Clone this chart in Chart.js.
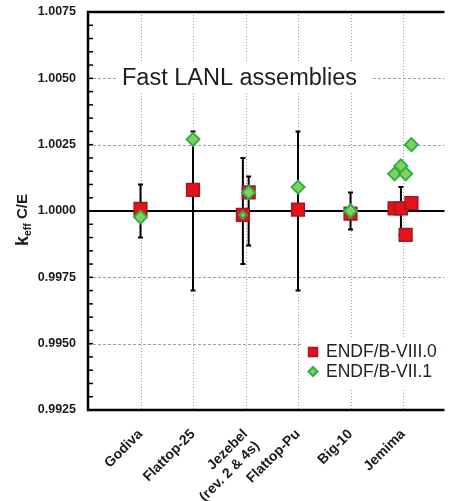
<!DOCTYPE html>
<html>
<head>
<meta charset="utf-8">
<script src="https://cdn.jsdelivr.net/npm/chart.js"></script>
<style>
  html, body { margin: 0; padding: 0; background: #fff; }
  #wrap { width: 455px; height: 501px; overflow: hidden; }
</style>
</head>
<body>
<div id="wrap"><canvas id="chart" width="455" height="501"></canvas></div>
<script>
const categories = ['Godiva', 'Flattop-25', ['Jezebel', '(rev. 2 & 4s)'], 'Flattop-Pu', 'Big-10', 'Jemima'];
const yTicks = [0.9925, 0.9950, 0.9975, 1.0000, 1.0025, 1.0050, 1.0075];

// x position of each assembly point (category index, small offsets for repeated ones)
const pointX = [1, 2, 2.95, 3.06, 4, 5, 5.84, 5.96, 6.05, 6.16];
const endf80 = [1.00008, 1.0008, 0.99985, 1.0007, 1.00005, 0.9999, 1.0001, 1.0001, 0.9991, 1.0003];
const endf71 = [0.99977, 1.0027, 0.99985, 1.0007, 1.0009, 1.0000, 1.0014, 1.0017, 1.0014, 1.0025];

// experimental uncertainty bars, centred on 1.0
const errX = [1, 2, 2.95, 3.06, 4, 5, 5.96];
const errSize = [0.0010, 0.0030, 0.0020, 0.0013, 0.0030, 0.0007, 0.0009];

const seriesNames = ['ENDF/B-VIII.0', 'ENDF/B-VII.1'];

Chart.defaults.font.family = "'Liberation Sans', Arial, sans-serif";
Chart.defaults.color = '#1a1a1a';

const RED = '#e5121b', RED_EDGE = '#9e1a1e';
const GREEN = '#86cf5a', GREEN_EDGE = '#27b249';

const framePlugin = {
  id: 'frame',
  beforeDatasetsDraw(chart) {
    const ctx = chart.ctx;
    const a = chart.chartArea;
    const xs = chart.scales.x, ys = chart.scales.y;
    ctx.save();

    // horizontal dashed grid
    ctx.strokeStyle = '#a0a0a0';
    ctx.lineWidth = 1;
    ctx.setLineDash([3, 2]);
    yTicks.forEach(v => {
      if (v === ys.min || v === ys.max || v === 1) return;
      const y = Math.round(ys.getPixelForValue(v)) + 0.5;
      ctx.beginPath(); ctx.moveTo(a.left, y); ctx.lineTo(a.right, y); ctx.stroke();
    });
    // vertical dotted grid
    ctx.setLineDash([1, 2]);
    categories.forEach((c, i) => {
      const x = Math.round(xs.getPixelForValue(i + 1)) + 0.5;
      ctx.beginPath(); ctx.moveTo(x, a.top); ctx.lineTo(x, a.bottom); ctx.stroke();
    });
    ctx.setLineDash([]);

    // reference line at 1.0
    ctx.strokeStyle = '#000';
    ctx.lineWidth = 2;
    const y1 = ys.getPixelForValue(1);
    ctx.beginPath(); ctx.moveTo(a.left, y1); ctx.lineTo(a.right, y1); ctx.stroke();

    // frame (right side is cut off in the original)
    ctx.lineWidth = 2.5;
    ctx.beginPath();
    ctx.moveTo(a.right, a.top); ctx.lineTo(a.left, a.top);
    ctx.lineTo(a.left, a.bottom); ctx.lineTo(a.right, a.bottom);
    ctx.stroke();

    // minor ticks inside left axis
    ctx.lineWidth = 1.5;
    for (let k = 0; ys.min + k * 0.0005 <= ys.max + 1e-9; k++) {
      const y = ys.getPixelForValue(ys.min + k * 0.0005);
      ctx.beginPath(); ctx.moveTo(a.left, y); ctx.lineTo(a.left + 5, y); ctx.stroke();
    }

    // error bars
    ctx.lineWidth = 2;
    errX.forEach((xv, i) => {
      const x = xs.getPixelForValue(xv);
      const top = ys.getPixelForValue(1 + errSize[i]);
      const bot = ys.getPixelForValue(1 - errSize[i]);
      ctx.beginPath();
      ctx.moveTo(x, top); ctx.lineTo(x, bot);
      ctx.moveTo(x - 2.5, top); ctx.lineTo(x + 2.5, top);
      ctx.moveTo(x - 2.5, bot); ctx.lineTo(x + 2.5, bot);
      ctx.stroke();
    });
    ctx.restore();
  },
  afterDatasetsDraw(chart) {
    const ctx = chart.ctx;
    const a = chart.chartArea;
    ctx.save();

    // title box
    ctx.fillStyle = '#fff';
    ctx.fillRect(117, 62, 256, 31);
    ctx.fillStyle = '#1e1e1e';
    ctx.font = "23.5px 'Liberation Sans', Arial, sans-serif";
    ctx.textBaseline = 'alphabetic';
    ctx.textAlign = 'left';
    ctx.fillText('Fast LANL assemblies', 122, 85);

    // legend box
    ctx.fillStyle = '#fff';
    ctx.fillRect(303, 337, a.right - 303, 51);
    ctx.font = "17.5px 'Liberation Sans', Arial, sans-serif";
    ctx.textBaseline = 'middle';
    // square marker
    ctx.fillStyle = RED; ctx.strokeStyle = RED_EDGE; ctx.lineWidth = 1.5;
    ctx.fillRect(308.5, 347.5, 9, 9); ctx.strokeRect(308.5, 347.5, 9, 9);
    // diamond marker
    ctx.fillStyle = GREEN; ctx.strokeStyle = GREEN_EDGE; ctx.lineWidth = 2;
    ctx.beginPath();
    ctx.moveTo(313, 367); ctx.lineTo(317.5, 371.5); ctx.lineTo(313, 376); ctx.lineTo(308.5, 371.5);
    ctx.closePath(); ctx.fill(); ctx.stroke();
    ctx.fillStyle = '#222';
    ctx.fillText(seriesNames[0], 326, 352.5);
    ctx.fillText(seriesNames[1], 326, 372.5);

    // y axis title: k_eff C/E
    ctx.translate(28, 220);
    ctx.rotate(-Math.PI / 2);
    ctx.textBaseline = 'alphabetic';
    ctx.fillStyle = '#1a1a1a';
    const fK = "bold 18px 'Liberation Sans', Arial, sans-serif";
    const fS = "bold 10.5px 'Liberation Sans', Arial, sans-serif";
    const fC = "bold 15px 'Liberation Sans', Arial, sans-serif";
    ctx.font = fK; const wK = ctx.measureText('k').width;
    ctx.font = fS; const wS = ctx.measureText('eff').width;
    ctx.font = fC; const wC = ctx.measureText(' C/E').width;
    let x0 = -(wK + wS + wC) / 2;
    ctx.font = fK; ctx.fillText('k', x0, 0); x0 += wK;
    ctx.font = fS; ctx.fillText('eff', x0, 3); x0 += wS;
    ctx.font = fC; ctx.fillText(' C/E', x0, -1);
    ctx.restore();
  }
};

new Chart(document.getElementById('chart'), {
  type: 'scatter',
  data: {
    datasets: [
      {
        label: seriesNames[0],
        data: pointX.map((x, i) => ({ x, y: endf80[i] })),
        pointStyle: 'rect',
        pointRadius: 9,
        backgroundColor: RED,
        borderColor: RED_EDGE,
        borderWidth: 1.5,
        order: 2
      },
      {
        label: seriesNames[1],
        data: pointX.map((x, i) => ({ x, y: endf71[i] })),
        pointStyle: 'rectRot',
        pointRadius: c => (c.dataIndex === 2 ? 3.5 : 6.5),
        backgroundColor: GREEN,
        borderColor: GREEN_EDGE,
        borderWidth: 2,
        order: 1
      }
    ]
  },
  options: {
    responsive: false,
    animation: false,
    layout: { padding: { top: 12, left: 0, right: 0, bottom: 0 } },
    plugins: { legend: { display: false }, tooltip: { enabled: false } },
    scales: {
      x: {
        type: 'linear',
        min: 0,
        max: 6.79,
        grid: { display: false, drawTicks: false },
        border: { display: false },
        afterBuildTicks: s => { s.ticks = categories.map((c, i) => ({ value: i + 1 })); },
        afterFit: s => { s.height = 91; s.paddingLeft = 0; s.paddingRight = 0; },
        ticks: {
          autoSkip: false,
          minRotation: 45,
          maxRotation: 45,
          padding: 16,
          labelOffset: 0,
          font: { size: 14, weight: 'bold' },
          callback: v => categories[Math.round(v) - 1]
        }
      },
      y: {
        min: 0.9925,
        max: 1.0075,
        grid: { display: false, drawTicks: false },
        border: { display: false },
        afterBuildTicks: s => { s.ticks = yTicks.map(v => ({ value: v })); },
        afterFit: s => { s.width = 88; s.paddingTop = 0; s.paddingBottom = 0; },
        ticks: {
          autoSkip: false,
          padding: 12,
          font: { size: 12.5, weight: 'bold' },
          callback: v => v.toFixed(4)
        }
      }
    }
  },
  plugins: [framePlugin]
});
</script>
</body>
</html>
